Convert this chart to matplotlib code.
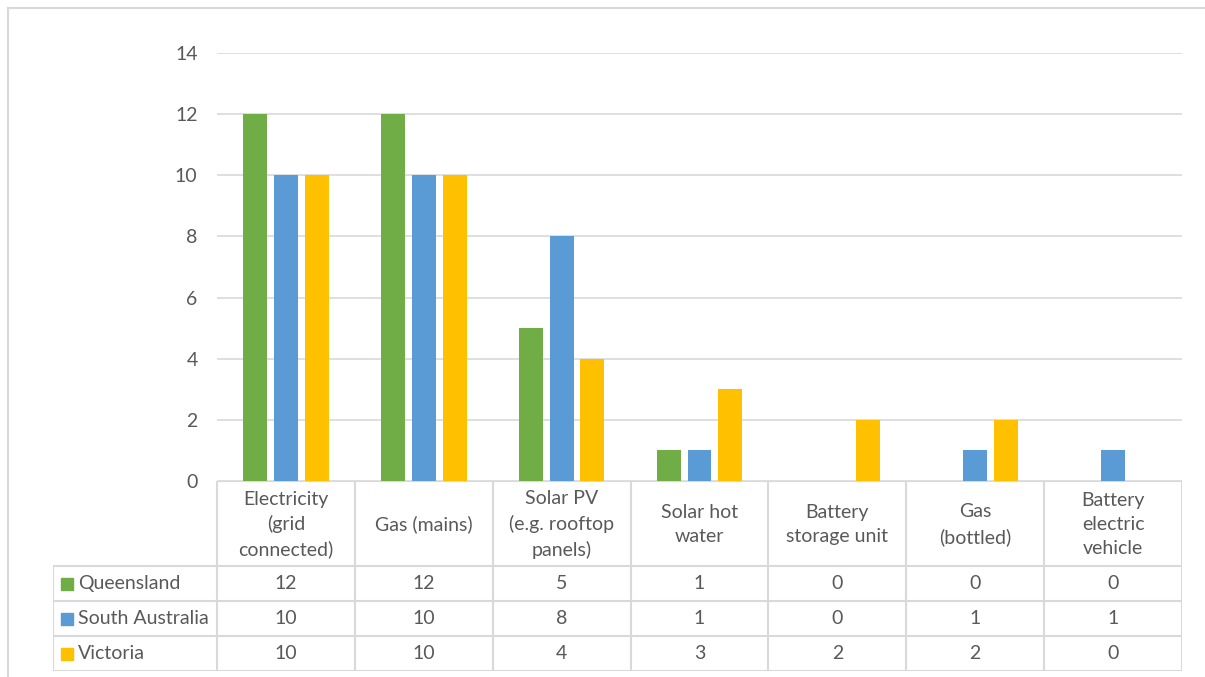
import numpy as np
import matplotlib
matplotlib.use("Agg")
import matplotlib.pyplot as plt
from matplotlib.lines import Line2D

# ── data ───────────────────────────────────────────────────────────────────────
categories = ["Electricity\n(grid\nconnected)", "Gas (mains)",
              "Solar PV\n(e.g. rooftop\npanels)", "Solar hot\nwater",
              "Battery\nstorage unit", "Gas\n(bottled)",
              "Battery\nelectric\nvehicle"]
series     = ["Queensland", "South Australia", "Victoria"]
queensland = [12, 12, 5, 1, 0, 0, 0]
south_aus  = [10, 10, 8, 1, 0, 1, 1]
victoria   = [10, 10, 4, 3, 2, 2, 0]
yticks     = [0, 2, 4, 6, 8, 10, 12, 14]

colors = ["#70AD47", "#5B9BD5", "#FFC000"]
TXT  = "#595959"
GRID = "#D9D9D9"
FS = 14
plt.rcParams["font.family"] = ["Lato", "DejaVu Sans"]

# ── layout (pixels) ───────────────────────────────────────────────────────────
W, H = 1205, 677
PX0, PX1 = 217, 1182         # plot / table columns
PY_TOP, PY_ZERO = 53, 481    # y=14 and y=0
LEG_X0 = 53
ROWS_Y = [566, 601, 636, 671]

fig = plt.figure(figsize=(W / 100, H / 100), dpi=100)

# chart border (left + top visible)
fig.add_artist(Line2D([8 / W, 8 / W], [0, 1 - 8 / H], color=GRID, lw=1.5))
fig.add_artist(Line2D([8 / W, 1], [1 - 8 / H, 1 - 8 / H], color=GRID, lw=1.5))

# ── bars ───────────────────────────────────────────────────────────────────────
ax = fig.add_axes([PX0 / W, 1 - PY_ZERO / H, (PX1 - PX0) / W, (PY_ZERO - PY_TOP) / H])
x = np.arange(len(categories))
bw, step = 0.174, 0.223
for i, (vals, c) in enumerate(zip([queensland, south_aus, victoria], colors)):
    ax.bar(x + (i - 1) * step, vals, bw, color=c, zorder=3)
ax.set_xlim(-0.5, len(categories) - 0.5)
ax.set_ylim(0, 14)
ax.set_yticks(yticks)
ax.set_yticklabels([str(t) for t in yticks], fontsize=FS, color=TXT)
ax.tick_params(axis="y", length=0, pad=14)
ax.set_xticks([])
ax.grid(axis="y", color=GRID, lw=1.2, zorder=0)
for s in ax.spines.values():
    s.set_visible(False)

# ── data table ────────────────────────────────────────────────────────────────
tb = fig.add_axes([LEG_X0 / W, 1 - ROWS_Y[-1] / H, (PX1 - LEG_X0) / W, (ROWS_Y[-1] - PY_ZERO) / H])
tb.set_xlim(LEG_X0, PX1)
tb.set_ylim(ROWS_Y[-1], PY_ZERO)
tb.axis("off")
colw = (PX1 - PX0) / len(categories)
lkw = dict(color=GRID, lw=1.5, solid_capstyle="butt")

# horizontal lines
tb.plot([PX0, PX1], [PY_ZERO, PY_ZERO], **lkw)
for y in ROWS_Y:
    tb.plot([LEG_X0, PX1], [y, y], **lkw)
# vertical lines
for j in range(len(categories) + 1):
    xx = PX0 + j * colw
    tb.plot([xx, xx], [PY_ZERO, ROWS_Y[-1]], **lkw)
tb.plot([LEG_X0, LEG_X0], [ROWS_Y[0], ROWS_Y[-1]], **lkw)

# header text
for j, cat in enumerate(categories):
    tb.text(PX0 + (j + 0.5) * colw, (PY_ZERO + ROWS_Y[0]) / 2 + 1, cat,
            ha="center", va="center", fontsize=FS, color=TXT, linespacing=1.5)

# rows
for r, (name, vals, c) in enumerate(zip(series, [queensland, south_aus, victoria], colors)):
    yc = (ROWS_Y[r] + ROWS_Y[r + 1]) / 2
    tb.add_patch(plt.Rectangle((61, yc - 6), 12, 12, color=c))
    tb.text(78, yc, name, ha="left", va="center", fontsize=FS, color=TXT)
    for j, v in enumerate(vals):
        tb.text(PX0 + (j + 0.5) * colw, yc, str(v), ha="center", va="center",
                fontsize=FS, color=TXT)

fig.savefig("out.png", dpi=100)
